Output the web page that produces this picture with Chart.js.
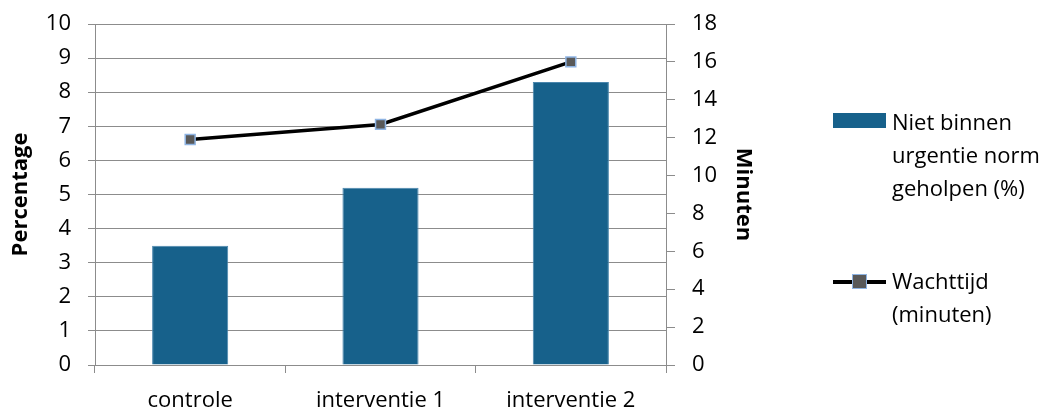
<!DOCTYPE html>
<html lang="nl">
<head>
    <meta charset="UTF-8">
    <title>Wachttijd</title>
    <script src="https://cdn.jsdelivr.net/npm/chart.js"></script>
    <style>
        html, body { margin: 0; padding: 0; background: #fff; }
        #wrap { position: relative; width: 1050px; height: 407px; overflow: hidden; }
        #legend { position: absolute; left: 833px; top: 0; font-family: "Open Sans", sans-serif; font-size: 22px; color: #000; line-height: 33px; }
        .item { position: absolute; left: 0; white-space: nowrap; }
        .swatch { position: absolute; left: 0; width: 53px; }
        .txt { position: absolute; left: 59px; }
    </style>
</head>
<body>
    <div id="wrap">
        <canvas id="chart" width="1050" height="407"></canvas>
        <div id="legend"></div>
    </div>

    <script>
        const categories = ['controle', 'interventie 1', 'interventie 2'];
        const percentage = [3.5, 5.2, 8.3];
        const wachttijd = [11.9, 12.7, 16.0];
        const seriesLabels = [['Niet binnen', 'urgentie norm', 'geholpen (%)'], ['Wachttijd', '(minuten)']];

        const barColor = '#17618b';
        const gridColor = '#8c8c8c';
        const font = { family: '"Open Sans", sans-serif', size: 22 };
        const titleFont = { family: '"Open Sans", sans-serif', size: 22, weight: 'bold' };

        const data = {
            labels: categories,
            datasets: [
                {
                    type: 'line',
                    label: seriesLabels[1].join(' '),
                    data: wachttijd,
                    yAxisID: 'y2',
                    borderColor: '#000',
                    borderWidth: 3.5,
                    pointStyle: 'rect',
                    pointRadius: 7,
                    pointBackgroundColor: '#595959',
                    pointBorderColor: '#8eb4e3',
                    pointBorderWidth: 1.5,
                    tension: 0,
                    order: 0
                },
                {
                    type: 'bar',
                    label: seriesLabels[0].join(' '),
                    data: percentage,
                    yAxisID: 'y',
                    backgroundColor: barColor,
                    borderColor: '#4a86ad',
                    borderWidth: 1,
                    categoryPercentage: 1,
                    barPercentage: 0.4,
                    order: 1
                }
            ]
        };

        // keep the plot box where the reference has it
        function fitY(width) {
            return (s) => { s.width = width; s.paddingTop = 0; s.paddingBottom = 0; };
        }

        const config = {
            data: data,
            options: {
                responsive: false,
                animation: false,
                layout: { padding: { top: 24, right: 290, left: 0, bottom: 0 } },
                plugins: { legend: { display: false }, tooltip: { enabled: false } },
                scales: {
                    x: {
                        offset: true,
                        grid: { offset: true, drawOnChartArea: false, color: gridColor, tickLength: 8 },
                        border: { color: gridColor },
                        ticks: { color: '#000', font: font, padding: 15, maxRotation: 0 },
                        afterFit: (s) => { s.height = 42; s.paddingLeft = 0; s.paddingRight = 0; }
                    },
                    y: {
                        position: 'left',
                        min: 0, max: 10,
                        ticks: { stepSize: 1, color: '#000', font: font, padding: 17 },
                        grid: { color: gridColor, tickLength: 7 },
                        border: { color: gridColor },
                        title: { display: true, text: 'Percentage', color: '#000', font: titleFont, padding: { top: 8, bottom: 0 } },
                        afterFit: fitY(95)
                    },
                    y2: {
                        position: 'right',
                        min: 0, max: 18,
                        ticks: { stepSize: 2, color: '#000', font: font, padding: 17 },
                        grid: { drawOnChartArea: false, color: gridColor, tickLength: 9 },
                        border: { color: gridColor },
                        title: { display: true, text: 'Minuten', color: '#000', font: titleFont, padding: { top: 4, bottom: 0 } },
                        afterFit: fitY(94)
                    }
                }
            }
        };

        new Chart(document.getElementById('chart').getContext('2d'), config);

        // legend built from the dataset labels
        const legend = document.getElementById('legend');
        const items = [
            { lines: seriesLabels[0], top: 105, kind: 'bar' },
            { lines: seriesLabels[1], top: 264, kind: 'line' }
        ];
        items.forEach(it => {
            const div = document.createElement('div');
            div.className = 'item';
            div.style.top = it.top + 'px';
            const sw = document.createElement('div');
            sw.className = 'swatch';
            if (it.kind === 'bar') {
                sw.style.cssText = 'top:8px;height:15px;background:' + barColor + ';';
            } else {
                sw.style.cssText = 'top:16px;height:4px;background:#000;';
                const m = document.createElement('div');
                m.style.cssText = 'position:absolute;left:19px;top:-6px;width:13px;height:13px;background:#595959;border:1.5px solid #8eb4e3;';
                sw.appendChild(m);
            }
            div.appendChild(sw);
            const t = document.createElement('div');
            t.className = 'txt';
            t.innerHTML = it.lines.join('<br>');
            div.appendChild(t);
            legend.appendChild(div);
        });
    </script>
</body>
</html>
